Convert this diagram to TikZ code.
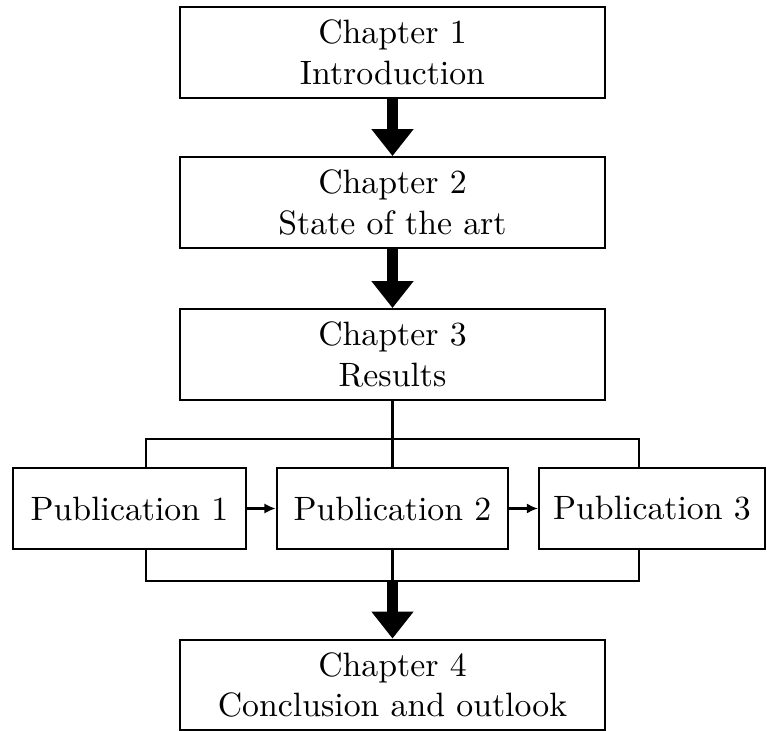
\documentclass[tikz,border=0pt]{standalone}
\usetikzlibrary{arrows.meta}

\begin{document}
\begin{tikzpicture}[x = 0.296pt, y = -0.296pt]
	\tikzstyle{chapterStyle} = [draw, semithick, align = center, minimum width = 125.8pt, minimum height = 26.9pt, inner sep = 0pt]
	\tikzstyle{pubStyle} = [draw, semithick, minimum height = 24pt, inner sep = 0pt]
	\tikzstyle{bigArrow} = [line width = 3.5pt, -{Triangle[width = 12pt, length = 8pt]}]
	\tikzstyle{smallArrow} = [semithick, -{Latex[length = 3.3pt, width = 3pt]}]
	\tikzstyle{busLine} = [semithick]
	\useasboundingbox (0, 0) rectangle (767, 731);
	\node[chapterStyle] (ch1) at (392.5, 52.5) {Chapter 1\\Introduction};
	\node[chapterStyle] (ch2) at (392.5, 202.5) {Chapter 2\\State of the art};
	\node[chapterStyle] (ch3) at (392.5, 354.5) {Chapter 3\\Results};
	\node[pubStyle, minimum width = 69pt] (pub1) at (129.5, 508.5) {Publication 1};
	\node[pubStyle, minimum width = 68.6pt] (pub2) at (392.5, 508.5) {Publication 2};
	\node[pubStyle, minimum width = 66.9pt] (pub3) at (652, 508.5) {Publication 3};
	\node[chapterStyle] (ch4) at (392.5, 685) {Chapter 4\\Conclusion and outlook};
	\coordinate (busTopL) at (146, 439);
	\coordinate (busTopR) at (639, 439);
	\coordinate (busBotL) at (146, 581);
	\coordinate (busBotR) at (639, 581);
	\coordinate (busBot) at (392.5, 581);
	\draw[bigArrow] (ch1) -- (ch2);
	\draw[bigArrow] (ch2) -- (ch3);
	\draw[busLine] (ch3) -- (pub2);
	\draw[busLine] (pub1.north -| busTopL) -- (busTopL) -- (busTopR) -- (pub3.north -| busTopR);
	\draw[busLine] (pub1.south -| busBotL) -- (busBotL) -- (busBotR) -- (pub3.south -| busBotR);
	\draw[busLine] (pub2) -- (busBot);
	\draw[smallArrow] (pub1) -- (pub2);
	\draw[smallArrow] (pub2) -- (pub3);
	\draw[bigArrow] (busBot) -- (ch4);
\end{tikzpicture}
\end{document}
